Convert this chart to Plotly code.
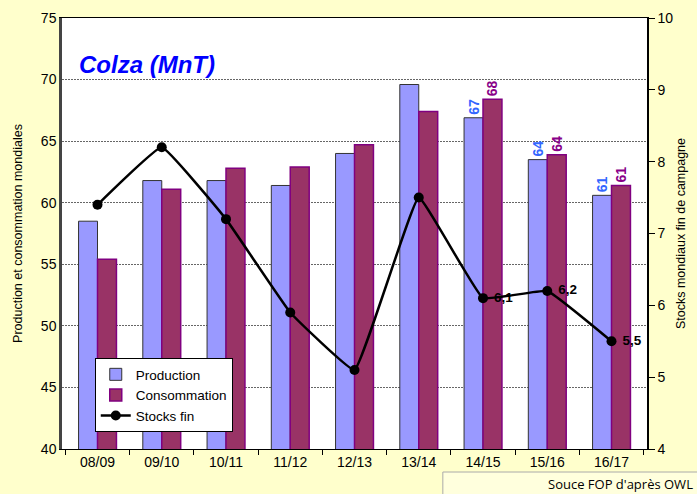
import plotly.graph_objects as go

campagnes = ["08/09", "09/10", "10/11", "11/12", "12/13", "13/14", "14/15", "15/16", "16/17"]
production = [58.5, 61.8, 61.8, 61.4, 64.0, 69.6, 66.9, 63.5, 60.6]
consommation = [55.4, 61.1, 62.8, 62.9, 64.7, 67.4, 68.4, 63.9, 61.4]
stocks_fin = [7.4, 8.2, 7.2, 5.9, 5.1, 7.5, 6.1, 6.2, 5.5]
labelled = [6, 7, 8]  # indices carrying value labels

prod_text = [f"{v:.0f}" if i in labelled else "" for i, v in enumerate(production)]
cons_text = [f"{v:.0f}" if i in labelled else "" for i, v in enumerate(consommation)]
stock_text = [("\u00a0" + f"{v:.1f}".replace(".", ",")) if i in labelled else ""
              for i, v in enumerate(stocks_fin)]

FONT = "Liberation Sans, Arial, sans-serif"

fig = go.Figure()
fig.add_trace(go.Bar(
    x=campagnes, y=production, name="Production",
    marker=dict(color="#9999FF", line=dict(color="#333333", width=1)),
    text=prod_text, textposition="outside", textangle=-90,
    textfont=dict(color="#3366FF", size=14, family=FONT, weight="bold"),
    cliponaxis=False,
))
fig.add_trace(go.Bar(
    x=campagnes, y=consommation, name="Consommation",
    marker=dict(color="#993366", line=dict(color="#800080", width=1.5)),
    text=cons_text, textposition="outside", textangle=-90,
    textfont=dict(color="#880088", size=14, family=FONT, weight="bold"),
    cliponaxis=False,
))
fig.add_trace(go.Scatter(
    x=campagnes, y=stocks_fin, name="Stocks fin", yaxis="y2",
    mode="lines+markers+text",
    line=dict(color="black", width=2.5, shape="spline", smoothing=0.25),
    marker=dict(color="black", size=10),
    text=stock_text, textposition="middle right",
    textfont=dict(color="black", size=13.5, family=FONT, weight="bold"),
))

fig.update_layout(
    width=697, height=494,
    margin=dict(l=62, r=50, t=18, b=45),
    paper_bgcolor="#FFFFCC", plot_bgcolor="white",
    font=dict(family=FONT, size=14, color="black"),
    barmode="group", bargap=0.41, bargroupgap=0,
    showlegend=True,
    legend=dict(x=0.056, y=0.211, xanchor="left", yanchor="top",
                bgcolor="white", bordercolor="black", borderwidth=1,
                font=dict(size=13.5), tracegroupgap=0, itemwidth=30),
    xaxis=dict(type="category", showline=True, linecolor="black", linewidth=1,
               mirror=True, ticks="outside", tickson="boundaries", ticklen=5,
               tickcolor="black", showgrid=False, tickfont=dict(size=14),
               automargin=False),
    yaxis=dict(range=[40, 75], dtick=5, showline=True, linecolor="#444444", linewidth=2.5,
               showgrid=True, gridcolor="#666666", griddash="2px,1px", gridwidth=1,
               zeroline=False, tickfont=dict(size=14), automargin=False,
               title=dict(text="Production et consommation mondiales", font=dict(size=12.5), standoff=16)),
    yaxis2=dict(range=[4, 10], dtick=1, overlaying="y", side="right", showline=True,
                linecolor="black", linewidth=1.5, ticks="outside", ticklen=6,
                tickcolor="black", showgrid=False, zeroline=False, tickfont=dict(size=14),
                automargin=False,
                title=dict(text="Stocks mondiaux fin de campagne", font=dict(size=12.5), standoff=4)),
)

fig.add_annotation(
    text="<b><i>Colza (MnT)</i></b>", xref="paper", yref="paper",
    x=0.025, y=0.891, xanchor="left", yanchor="middle", showarrow=False,
    font=dict(color="#0000FF", size=24, family=FONT),
)
fig.add_shape(type="rect", xref="paper", yref="paper",
              x0=0.651, x1=1.1, y0=-0.11, y1=-0.0534,
              line=dict(color="#AAAAAA", width=1), fillcolor="#FFFFDD", layer="above")
fig.add_annotation(
    text="Souce FOP d'après OWL", xref="paper", yref="paper",
    x=1.082, y=-0.081, xanchor="right", yanchor="middle", showarrow=False,
    font=dict(color="black", size=13, family="Open Sans, sans-serif"),
)

fig.write_html(
    "out.html",
    config={"displayModeBar": False},
    post_script="document.body.style.margin='0';document.body.style.background='#FFFFCC';",
)
